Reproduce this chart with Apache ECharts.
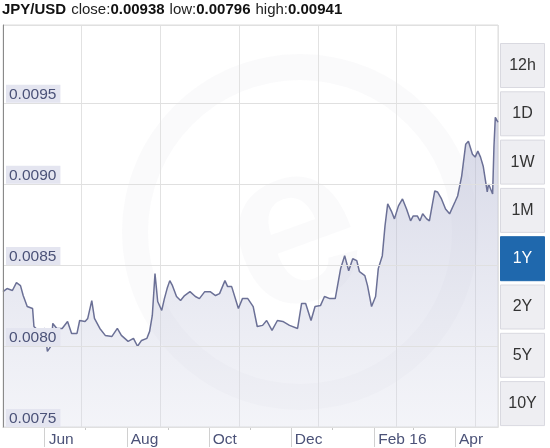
<!DOCTYPE html>
<html><head><meta charset="utf-8">
<script src="https://cdn.jsdelivr.net/npm/echarts@6/dist/echarts.min.js"></script>
<style>html,body{margin:0;padding:0;background:#fff}#c{width:550px;height:448px}</style>
</head><body><div id="c"></div>
<script>
const startDate = '2015-05-01';
const endDate = '2016-05-03';
const dates = ['2015-05-01','2015-05-04','2015-05-08','2015-05-11','2015-05-14','2015-05-16','2015-05-19','2015-05-23','2015-05-24','2015-05-27',
'2015-06-01','2015-06-03','2015-06-06','2015-06-07','2015-06-10','2015-06-14','2015-06-18','2015-06-21','2015-06-25','2015-06-27',
'2015-07-01','2015-07-03','2015-07-06','2015-07-08','2015-07-12','2015-07-16','2015-07-21','2015-07-25','2015-07-28',
'2015-08-02','2015-08-06','2015-08-09','2015-08-12','2015-08-16','2015-08-18','2015-08-20','2015-08-22','2015-08-24','2015-08-27','2015-08-29','2015-08-31',
'2015-09-02','2015-09-04','2015-09-07','2015-09-10','2015-09-13','2015-09-17','2015-09-21','2015-09-24','2015-09-28',
'2015-10-02','2015-10-06','2015-10-09','2015-10-13','2015-10-15','2015-10-18','2015-10-23','2015-10-26','2015-10-30',
'2015-11-03','2015-11-06','2015-11-10','2015-11-13','2015-11-17','2015-11-21','2015-11-25','2015-11-30',
'2015-12-06','2015-12-09','2015-12-12','2015-12-16','2015-12-19','2015-12-23','2015-12-26','2015-12-30',
'2016-01-03','2016-01-07','2016-01-10','2016-01-13','2016-01-16','2016-01-19','2016-01-21','2016-01-25','2016-01-27','2016-01-30',
'2016-02-02','2016-02-04','2016-02-07','2016-02-09','2016-02-11','2016-02-14','2016-02-16','2016-02-19','2016-02-22','2016-02-25','2016-02-28',
'2016-03-01','2016-03-04','2016-03-06','2016-03-08','2016-03-11','2016-03-13','2016-03-17','2016-03-19','2016-03-22','2016-03-25','2016-03-28',
'2016-04-01','2016-04-03','2016-04-06','2016-04-09','2016-04-11','2016-04-14','2016-04-16','2016-04-18','2016-04-20','2016-04-22','2016-04-25','2016-04-26','2016-04-29','2016-04-30','2016-05-01','2016-05-03'];
const rates = [0.008335,0.008354,0.008342,0.008391,0.008372,0.008311,0.008243,0.008231,0.008120,0.008096,
0.008108,0.007967,0.008004,0.008139,0.008108,0.008108,0.008151,0.008077,0.008077,0.008157,
0.008151,0.008170,0.008280,0.008170,0.008108,0.008065,0.008059,0.008108,0.008065,
0.008028,0.008047,0.007998,0.008034,0.008047,0.008090,0.008188,0.008446,0.008274,0.008219,0.008292,0.008354,
0.008403,0.008372,0.008305,0.008280,0.008311,0.008335,0.008305,0.008292,0.008335,
0.008335,0.008311,0.008323,0.008403,0.008366,0.008366,0.008231,0.008292,0.008292,
0.008243,0.008120,0.008127,0.008157,0.008096,0.008157,0.008151,0.008127,
0.008108,0.008262,0.008262,0.008157,0.008243,0.008249,0.008305,0.008292,
0.008292,0.008477,0.008557,0.008464,0.008538,0.008526,0.008458,0.008434,0.008372,0.008243,
0.008305,0.008477,0.008557,0.008741,0.008876,0.008827,0.008784,0.008864,0.008907,0.008845,0.008772,
0.008802,0.008802,0.008772,0.008815,0.008784,0.008772,0.008956,0.008950,0.008907,0.008845,0.008815,
0.008888,0.008925,0.009048,0.009245,0.009263,0.009183,0.009165,0.009202,0.009165,0.009109,0.008950,0.008999,0.008937,0.009232,0.009410,0.009380];
const yMin = 0.0075, yMax = 0.00998, yStep = 0.0005;
const monthLabelDates = ['2015-06-01','2015-08-01','2015-10-01','2015-12-01','2016-02-01','2016-04-01'];
const monthLabels = ['Jun','Aug','Oct','Dec','Feb 16','Apr'];
const minorTickDates = ['2015-07-01','2015-09-01','2015-11-01','2016-01-01','2016-03-01'];
const ranges = ['12h','1D','1W','1M','1Y','2Y','5Y','10Y'];
const activeRange = '1Y';
const pair = 'JPY/USD', closeVal = '0.00938', lowVal = '0.00796', highVal = '0.00941';

const dayOf = d => Math.round((Date.parse(d) - Date.parse(startDate)) / 86400000);
const maxDay = dayOf(endDate);
const sepDays = monthLabelDates.map(dayOf);
const labelMap = {};
sepDays.forEach((d, i) => labelMap[d] = monthLabels[i]);
const minorDays = minorTickDates.map(dayOf);
const FONT = '"Liberation Sans", Arial, sans-serif';
const txtColor = '#4b5278';

const graphics = [
  {type:'ring', shape:{cx:300, cy:232, r:178, r0:152}, style:{fill:'rgba(110,110,140,0.035)'}, z:-10, silent:true},
  {type:'text', rotation:0.35, x:295, y:238, style:{text:'e', x:0, y:0, align:'center', verticalAlign:'middle', font:'bold 230px "Liberation Sans", Arial', fill:'rgba(110,110,140,0.03)'}, z:-10, silent:true}
];
ranges.forEach((r, i) => {
  const active = r === activeRange;
  const y = 43 + i * 48.3;
  graphics.push({type:'rect', shape:{x:500.5, y:y+0.5, width:44, height:44}, style:{fill: active ? '#1f68ad' : '#eeeef2', stroke: active ? '#1f68ad' : '#d9d9e0', lineWidth:1}, z:10});
  graphics.push({type:'text', style:{text:r, x:522.5, y:y+22.5, align:'center', verticalAlign:'middle', font:'16px ' + FONT, fill: active ? '#ffffff' : '#333333'}, z:11});
});

const chart = echarts.init(document.getElementById('c'));
chart.setOption({
  animation: false,
  backgroundColor: '#ffffff',
  title: {
    left: 2, top: 1, padding: 0,
    text: `{b|${pair}} {n|close:}{b|${closeVal}} {n|low:}{b|${lowVal}} {n|high:}{b|${highVal}}`,
    textStyle: {rich: {
      b: {fontFamily: FONT, fontSize: 15, fontWeight: 'bold', color: '#111'},
      n: {fontFamily: FONT, fontSize: 15, fontWeight: 'normal', color: '#222'}
    }}
  },
  grid: {left: 3, right: 52, top: 25, bottom: 19, show: true, borderColor: '#dddddd', borderWidth: 1, backgroundColor: 'transparent'},
  xAxis: [
    {type:'value', min:0, max:maxDay, interval:58.5, position:'bottom',
     axisLine:{show:true, lineStyle:{color:'#c8c8c8'}}, axisTick:{show:false}, axisLabel:{show:false},
     splitLine:{show:true, lineStyle:{color:'#e2e2e2'}}},
    {type:'value', min:0, max:maxDay, position:'bottom',
     axisLine:{show:false}, splitLine:{show:false},
     axisTick:{show:true, customValues:sepDays, length:20, lineStyle:{color:'#d0d0d0'}},
     axisLabel:{show:true, customValues:sepDays, formatter:v => labelMap[Math.round(v)] || '', align:'left', padding:[0,0,0,4], margin:5,
       fontFamily:FONT, fontSize:15.5, color:txtColor}},
    {type:'value', min:0, max:maxDay, position:'bottom',
     axisLine:{show:false}, splitLine:{show:false}, axisLabel:{show:false},
     axisTick:{show:true, customValues:minorDays, length:3, lineStyle:{color:'#c8c8c8'}}}
  ],
  yAxis: {
    type:'value', min:yMin, max:yMax, interval:yStep, z:5,
    axisLine:{show:true, lineStyle:{color:'#8a8a8a', width:1}},
    axisTick:{show:false},
    splitLine:{show:true, lineStyle:{color:'#e0e0e0'}},
    axisLabel:{inside:true, margin:3, showMaxLabel:false, verticalAlign:'bottom',
      formatter: v => (Math.abs(v / yStep - Math.round(v / yStep)) < 1e-6) ? v.toFixed(4) : '',
      fontFamily:FONT, fontSize:15.5, color:txtColor, backgroundColor:'#e4e5f0', padding:[2,4,0,3]}
  },
  graphic: graphics,
  series: [{
    type:'line', xAxisIndex:0, showSymbol:false, z:3,
    data: dates.map((d, i) => [dayOf(d), rates[i]]),
    lineStyle:{color:'#6b7096', width:1.5},
    areaStyle:{color: new echarts.graphic.LinearGradient(0,0,0,1,[{offset:0,color:'rgba(170,174,205,0.7)'},{offset:1,color:'rgba(218,220,234,0.45)'}])}
  }]
});
</script></body></html>
